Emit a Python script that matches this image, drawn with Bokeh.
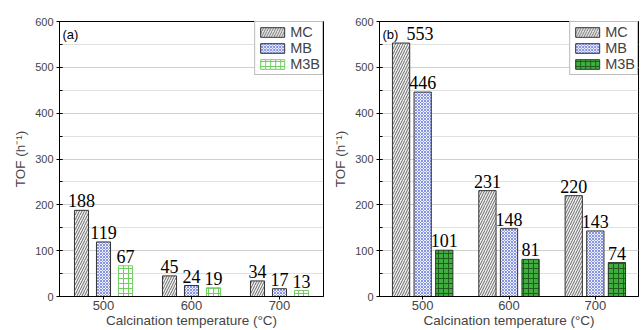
from bokeh.plotting import figure
from bokeh.layouts import row
from bokeh.models import ColumnDataSource, FactorRange, SingleIntervalTicker, Label, Legend, LegendItem
from bokeh.transform import dodge
from bokeh.embed import file_html
from bokeh.resources import INLINE

# Calcination temperatures (°C)
temps = ["500", "600", "700"]
series = ["MC", "MB", "M3B"]

# TOF (h^-1), panel (a)
tof_a_mc = [188, 45, 34]
tof_a_mb = [119, 24, 17]
tof_a_m3b = [67, 19, 13]

# TOF (h^-1), panel (b)
tof_b_mc = [553, 231, 220]
tof_b_mb = [446, 148, 143]
tof_b_m3b = [101, 81, 74]

SANS = "Liberation Sans"
SERIF = "Liberation Serif"


def make_panel(tag, values, m3b_style, bar_w, width, border_left, border_right, label_shift):
    p = figure(x_range=FactorRange(*temps), y_range=(0, 600),
               width=width, height=330, output_backend="svg", toolbar_location=None,
               min_border_left=border_left, min_border_right=border_right,
               min_border_top=21, min_border_bottom=32)
    p.outline_line_color = "black"
    p.outline_line_width = 1
    p.background_fill_color = "white"
    p.border_fill_color = "white"

    styles = [
        dict(fill_color="#f0f0f0", hatch_pattern="/", hatch_color="#6a6a6a",
             hatch_scale=5, hatch_weight=1, line_color="#333333"),
        dict(fill_color="#eef0fc", hatch_pattern="x", hatch_color="#8694e2",
             hatch_scale=3, hatch_weight=1, line_color="#333333"),
        m3b_style,
    ]
    offsets = [-0.25, 0.0, 0.25]
    items = []
    for name, vals, off, st in zip(series, values, offsets, styles):
        src = ColumnDataSource(dict(x=temps, top=vals, lbl=[str(v) for v in vals]))
        r = p.vbar(x=dodge("x", off, range=p.x_range), top="top", width=bar_w,
                   source=src, line_width=1, **st)
        items.append(LegendItem(label=name, renderers=[r]))
        src.data["xo"] = [label_shift.get((name, t), 0) for t in temps]
        p.text(x=dodge("x", off, range=p.x_range), y="top", text="lbl", source=src,
               x_offset="xo", y_offset=-3, text_align="center", text_baseline="bottom",
               text_font={"value": SERIF}, text_font_size="18px", text_color="black")

    legend = Legend(items=items, location="top_right", glyph_width=30, glyph_height=12,
                    label_text_font=SANS, label_text_font_size="14.5px", label_height=12,
                    label_text_baseline="middle",
                    spacing=0, padding=2, margin=0, label_standoff=3,
                    border_line_color="#777777", border_line_width=1,
                    background_fill_alpha=1)
    p.add_layout(legend)

    p.yaxis.ticker = SingleIntervalTicker(interval=100, num_minor_ticks=2)
    p.ygrid.ticker = SingleIntervalTicker(interval=100, num_minor_ticks=2)
    p.ygrid.grid_line_color = "#c0c0c0"
    p.ygrid.grid_line_dash = "1 1"
    p.ygrid.minor_grid_line_color = "#c0c0c0"
    p.ygrid.minor_grid_line_dash = "1 1"
    p.xgrid.grid_line_color = None

    p.yaxis.axis_label = "TOF (h\u207b\u00b9)"
    p.xaxis.axis_label = "Calcination temperature (\u00b0C)"
    for ax in (p.xaxis, p.yaxis):
        ax.axis_label_text_font = SANS
        ax.axis_label_text_font_style = "normal"
        ax.axis_label_text_font_size = "13.5px"
        ax.major_label_text_font = SANS
        ax.axis_line_color = "black"
        ax.major_tick_line_color = "black"
        ax.minor_tick_line_color = "black"
    p.yaxis.major_label_text_font_size = "11px"
    p.xaxis.major_label_text_font_size = "13px"
    p.yaxis.major_tick_out = 3
    p.yaxis.major_tick_in = 3
    p.yaxis.minor_tick_out = 0
    p.yaxis.minor_tick_in = 3
    p.yaxis.major_label_standoff = 3
    p.yaxis.axis_label_standoff = 4
    p.xaxis.major_tick_out = 3
    p.xaxis.major_tick_in = 0
    p.xaxis.major_label_standoff = 1
    p.xaxis.axis_label_standoff = 0

    p.add_layout(Label(x=0, y=600, x_offset=3, y_offset=-5, text=tag,
                       text_baseline="top", text_font=SANS, text_font_size="13px",
                       text_color="black"))
    return p


p1 = make_panel("(a)", [tof_a_mc, tof_a_mb, tof_a_m3b],
                dict(fill_color="white", hatch_pattern="+", hatch_color="#6fd060",
                     hatch_scale=5, hatch_weight=1, line_color="#6fd060"),
                0.16, 330, 59, 7, {})
p2 = make_panel("(b)", [tof_b_mc, tof_b_mb, tof_b_m3b],
                dict(fill_color="#3fae3f", hatch_pattern="+", hatch_color="#1d5e1d",
                     hatch_scale=5, hatch_weight=1, line_color="#333333"),
                0.2, 311, 44, 3, {("MC", "500"): 19})

layout = row(p1, p2)
open("out.html", "w").write(file_html(layout, INLINE))
